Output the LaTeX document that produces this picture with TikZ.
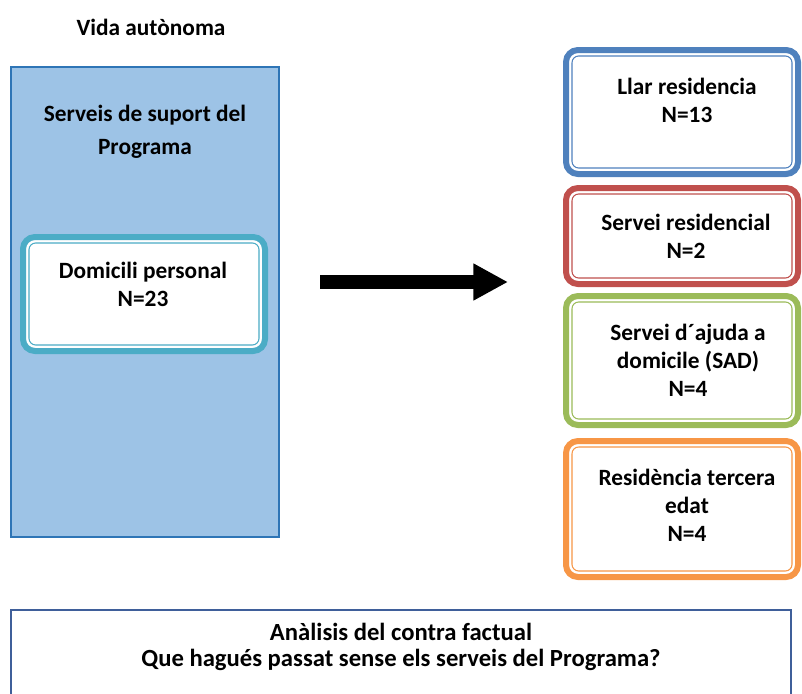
\documentclass[tikz,border=0pt]{standalone}
\usepackage{fontspec}
\setmainfont{Carlito}
\usetikzlibrary{arrows.meta}
\definecolor{panelfill}{HTML}{9DC3E6}
\definecolor{paneldraw}{HTML}{2E75B6}
\definecolor{cblue}{HTML}{4F81BD}
\definecolor{cred}{HTML}{C0504D}
\definecolor{cgreen}{HTML}{9BBB59}
\definecolor{corange}{HTML}{F79646}
\definecolor{cteal}{HTML}{4BACC6}
\definecolor{cframe}{HTML}{3F5F9A}
\begin{document}
\begin{tikzpicture}[x=0.75pt,y=-0.75pt,font=\bfseries\fontsize{17.5}{21}\selectfont,
	lbl/.style={align=center,inner sep=0pt},
	optbox/.style={draw=#1,line width=4.5pt,fill=white,rounded corners=9pt,outer sep=0pt,inner sep=0pt,minimum width=174pt}]
	\useasboundingbox (0,0) rectangle (802,693);
	\node[lbl] (vida) at (151,27) {Vida autònoma};
	\node[draw=paneldraw,fill=panelfill,line width=1.5pt,inner sep=0pt,minimum width=201pt,minimum height=352.5pt] (prog) at (145,302) {};
	\node[lbl,font=\bfseries\fontsize{17.5}{25}\selectfont] (progtxt) at (145,132) {Serveis de suport del\\Programa};
	\node[optbox=cteal,minimum width=181.5pt,minimum height=85.5pt] (dom) at (144,294) {};
	\node[lbl] (domtxt) at (143,284) {Domicili personal\\N=23};
	\node[optbox=cblue,minimum height=93pt] (llar) at (682,112) {};
	\node[optbox=cred,minimum height=72pt] (resid) at (682,236) {};
	\node[optbox=cgreen,minimum height=96.75pt] (sad) at (682,360.5) {};
	\node[optbox=corange,minimum height=102pt] (edat) at (682,509) {};
	\foreach \n/\c in {dom/cteal,llar/cblue,resid/cred,sad/cgreen,edat/corange}
	\draw[\c,line width=0.8pt,rounded corners=5pt] ([shift={(4.5pt,-4.5pt)}]\n.north west) rectangle ([shift={(-4.5pt,4.5pt)}]\n.south east);
	\node[lbl] (llartxt) at (687,100) {Llar residencia\\N=13};
	\node[lbl] (residtxt) at (686,236) {Servei residencial\\N=2};
	\node[lbl] (sadtxt) at (688,360) {Servei d´ajuda a\\domicile (SAD)\\N=4};
	\node[lbl] (edattxt) at (687,505) {Residència tercera\\edat\\N=4};
	\coordinate (from) at (320,282);
	\coordinate (to) at (508,282);
	\draw[line width=10.5pt,-{Triangle[length=26pt,width=26pt]}] (from) -- (to);
	\node[draw=cframe,line width=1.5pt,inner sep=0pt,minimum width=585pt,minimum height=67.5pt] (contra) at (401,655) {};
	\node[lbl,font=\bfseries\fontsize{18.5}{19.5}\selectfont] (contratxt) at (401,647) {Anàlisis del contra factual\\Que hagués passat sense els serveis del Programa?};
\end{tikzpicture}
\end{document}
